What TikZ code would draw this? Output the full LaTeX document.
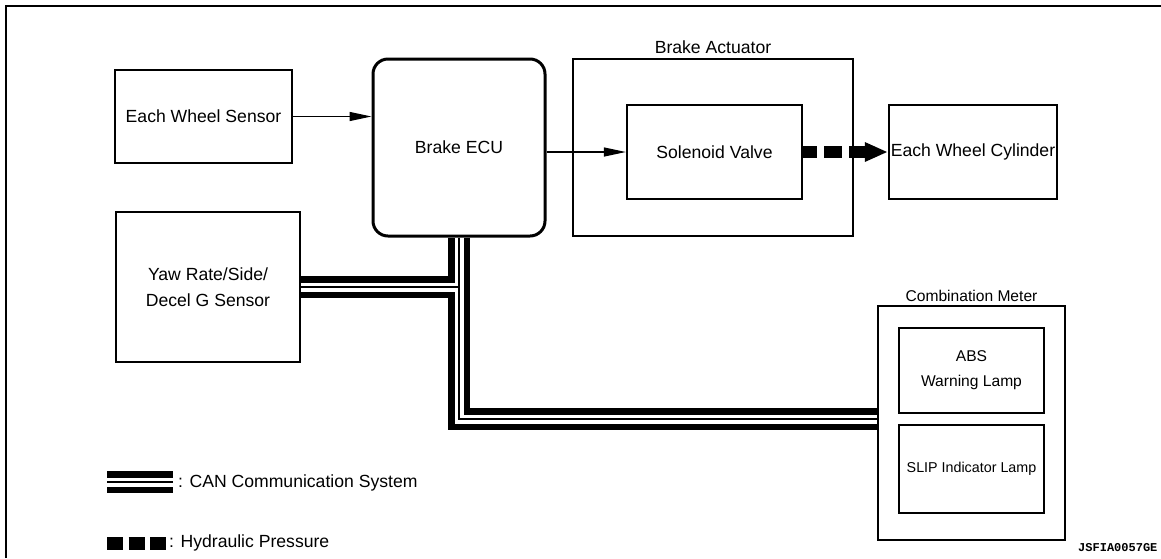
\documentclass[tikz,border=0pt]{standalone}
\usepackage{fontspec}
\setmainfont{Liberation Sans}
\newfontfamily\codefont{Liberation Mono}
\usepackage{tikz}
\usetikzlibrary{arrows.meta, calc}

\tikzset{
    box/.style 2 args={draw, line width=2.2pt, minimum width=#1, minimum height=#2, inner sep=0pt},
    sig/.style={line width=1.3pt, -{Triangle[length=22pt, width=9pt]}},
    hyd/.style={line width=12pt, dash pattern=on 18pt off 7pt, dash phase=4pt},
}

\begin{document}
\begin{tikzpicture}[x=1pt, y=-1pt, font=\fontsize{17.6}{26}\selectfont]
    \useasboundingbox (0,0) rectangle (1161,558);
    \draw[line width=2pt] (6,558) -- (6,6) -- (1161,6);

    \node[box={177pt}{93pt}] (ews) at (203.5,116.5) {Each Wheel Sensor};
    \node[box={172pt}{177pt}, line width=3pt, rounded corners=15pt] (ecu) at (459,147.5) {Brake ECU};
    \node[box={280pt}{177pt}] (act) at (713,147.5) {};
    \node (actlbl) at (713,47) {Brake Actuator};
    \node[box={175pt}{94pt}] (sv) at (714.5,152) {Solenoid Valve};
    \node[box={168pt}{94pt}] (ewc) at (973,152) {Each Wheel Cylinder};
    \node[box={184pt}{150pt}, align=center] (yaw) at (208,287) {Yaw Rate/Side/\\Decel G Sensor};

    \node[box={187pt}{234pt}] (meter) at (971.5,423) {};
    \node[font=\fontsize{15.6}{24}\selectfont] (meterlbl) at (971.5,296) {Combination Meter};
    \node[box={145pt}{85pt}, align=center, font=\fontsize{15.6}{25}\selectfont] (abs) at (971.5,370.5) {ABS\\Warning Lamp};
    \node[box={145pt}{88pt}, font=\fontsize{14.3}{24}\selectfont] (slip) at (971.5,469) {SLIP Indicator Lamp};

    \draw[sig] (ews.east) -- (ews.east -| ecu.west);
    \draw[sig] (ecu.east |- sv.west) -- (sv.west);
    \draw[hyd, -{Triangle[length=23pt, width=18pt]}] (sv.east) -- (ewc.west);

    \coordinate (canend) at ($(meter.west)+(0,-4)$);
    \coordinate (canlgd1) at (107,482);
    \coordinate (canlgd2) at (173,482);
    \foreach \w/\c in {22pt/black, 9pt/white, 1.5pt/black} {
        \draw[line width=\w, \c] (ecu.south) |- (canend);
        \draw[line width=\w, \c] (yaw.east) -- (yaw.east -| ecu.south);
        \draw[line width=\w, \c] (canlgd1) -- (canlgd2);
    }
    \node[anchor=west, inner sep=0pt] (canlbl) at (178,483) {: CAN Communication System};

    \coordinate (hydlgd1) at (107,543);
    \coordinate (hydlgd2) at (166.5,543);
    \draw[line width=13pt, dash pattern=on 16pt off 5.5pt] (hydlgd1) -- (hydlgd2);
    \node[anchor=west, inner sep=0pt] (hydlbl) at (169,543) {: Hydraulic Pressure};

    \node[anchor=west, inner sep=0pt, font=\codefont\bfseries\fontsize{12}{14}\selectfont] (code) at (1078,548) {JSFIA0057GE};
\end{tikzpicture}
\end{document}
